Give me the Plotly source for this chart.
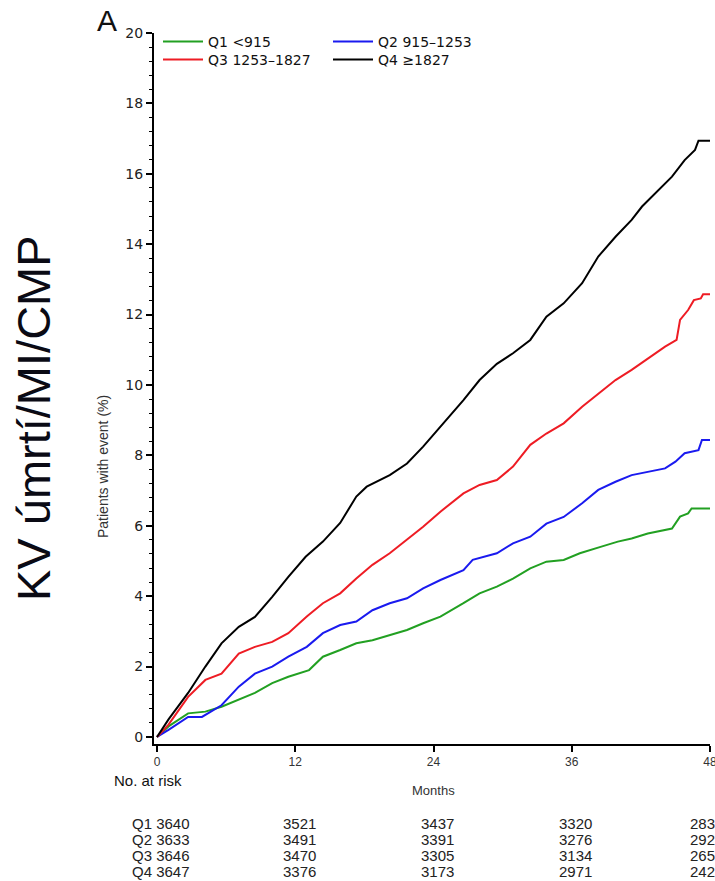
import plotly.graph_objects as go

# Cumulative event curves (months, % of patients with event)
months_q1 = [0, 1, 2.7, 4.2, 5.6, 7.1, 8.5, 10.0, 11.4, 13.2, 14.4, 15.9, 17.3, 18.7, 20.2, 21.7,
             23.1, 24.6, 26.6, 28.0, 29.5, 30.9, 32.4, 33.8, 35.3, 36.7, 38.5, 40.0, 41.2, 42.6,
             44.7, 45.4, 46.1, 46.4, 48]
pct_q1 = [0, 0.3, 0.67, 0.72, 0.86, 1.05, 1.25, 1.53, 1.71, 1.9, 2.28, 2.47, 2.66, 2.75, 2.9, 3.04,
          3.23, 3.42, 3.8, 4.08, 4.27, 4.5, 4.79, 4.98, 5.03, 5.22, 5.4, 5.55, 5.64, 5.78,
          5.92, 6.26, 6.35, 6.49, 6.49]

months_q2 = [0, 1, 2.7, 3.9, 5.6, 7.1, 8.5, 10.0, 11.4, 13.0, 14.4, 15.9, 17.3, 18.7, 20.2, 21.7,
             23.1, 24.6, 26.6, 27.4, 29.5, 30.9, 32.4, 33.8, 35.3, 36.9, 38.3, 39.8, 41.2, 42.6,
             44.1, 45.0, 45.8, 47.0, 47.3, 48]
pct_q2 = [0, 0.2, 0.57, 0.57, 0.9, 1.43, 1.8, 2.0, 2.28, 2.56, 2.95, 3.18, 3.28, 3.6, 3.8, 3.94,
          4.22, 4.46, 4.74, 5.03, 5.22, 5.5, 5.69, 6.06, 6.25, 6.64, 7.02, 7.25, 7.44, 7.54,
          7.63, 7.82, 8.06, 8.15, 8.44, 8.44]

months_q3 = [0, 1, 2.7, 4.2, 5.6, 7.1, 8.5, 10.0, 11.4, 13.0, 14.4, 15.9, 17.3, 18.7, 20.2, 21.7,
             23.1, 24.6, 26.6, 28.0, 29.5, 30.9, 32.4, 33.8, 35.3, 36.9, 38.3, 39.8, 41.2, 42.6,
             44.1, 45.1, 45.4, 46.1, 46.6, 47.2, 47.4, 48]
pct_q3 = [0, 0.35, 1.14, 1.62, 1.8, 2.37, 2.56, 2.7, 2.95, 3.42, 3.8, 4.08, 4.5, 4.89, 5.22, 5.6,
          5.97, 6.4, 6.92, 7.16, 7.3, 7.68, 8.3, 8.62, 8.91, 9.38, 9.76, 10.14, 10.43, 10.76,
          11.09, 11.28, 11.85, 12.13, 12.41, 12.46, 12.58, 12.58]

months_q4 = [0, 1, 2.7, 4.2, 5.6, 7.1, 8.5, 10.0, 11.4, 12.9, 14.4, 15.9, 17.3, 18.2, 20.2, 21.7,
             23.1, 24.6, 26.6, 28.0, 29.5, 30.9, 32.4, 33.8, 35.3, 36.9, 38.3, 39.8, 41.2, 42.1,
             43.5, 44.7, 45.8, 46.7, 47.0, 48]
pct_q4 = [0, 0.5, 1.25, 2.0, 2.66, 3.13, 3.41, 3.98, 4.55, 5.12, 5.55, 6.08, 6.83, 7.11, 7.44, 7.77,
          8.25, 8.81, 9.57, 10.14, 10.6, 10.9, 11.28, 11.94, 12.32, 12.89, 13.65, 14.21, 14.69, 15.07,
          15.54, 15.92, 16.39, 16.68, 16.94, 16.94]

series_names = ["Q1 <915", "Q2 915\u20131253", "Q3 1253\u20131827", "Q4 \u22651827"]
series_colors = ["#22a022", "#1a1aef", "#ee1c24", "#000000"]

# Numbers at risk
risk_labels = ["Q1", "Q2", "Q3", "Q4"]
risk_months = [0, 12, 24, 36, 48]
risk_q1 = [3640, 3521, 3437, 3320, 283]
risk_q2 = [3633, 3491, 3391, 3276, 292]
risk_q3 = [3646, 3470, 3305, 3134, 265]
risk_q4 = [3647, 3376, 3173, 2971, 242]

x_ticks = [0, 12, 24, 36, 48]
y_ticks = list(range(0, 21, 2))

W, H = 715, 881
L, R, T, B = 154, 5, 33, 137
PW, PH = W - L - R, H - T - B


def px_x(px):
    return (px - L) / PW


def px_y(py):
    return (H - B - py) / PH


fig = go.Figure()
all_months = [months_q1, months_q2, months_q3, months_q4]
all_pct = [pct_q1, pct_q2, pct_q3, pct_q4]
legend_ids = ["legend", "legend2", "legend3", "legend4"]
for name, col, leg, xs, ys in zip(series_names, series_colors, legend_ids, all_months, all_pct):
    fig.add_trace(go.Scatter(
        x=xs, y=ys, mode="lines", name=name, legend=leg, showlegend=True,
        line=dict(color=col, width=2),
    ))

# one legend box per entry, laid out as a 2 x 2 grid
legend_pos = [(158, 42), (328, 42), (158, 60), (328, 60)]
legend_layout = {}
for leg, (lx, ly) in zip(legend_ids, legend_pos):
    legend_layout[leg] = dict(
        x=px_x(lx), y=px_y(ly), xanchor="left", yanchor="middle",
        bgcolor="rgba(0,0,0,0)", borderwidth=0,
        font=dict(family="DejaVu Sans", size=14, color="#111"),
        itemwidth=40,
    )

annotations = [
    dict(text="A", x=px_x(107), y=px_y(21), xref="paper", yref="paper", showarrow=False,
         xanchor="center", yanchor="middle",
         font=dict(family="Liberation Sans", size=30, color="#111")),
    dict(text="KV úmrtí/MI/CMP", x=px_x(33), y=px_y(418), xref="paper", yref="paper",
         showarrow=False, textangle=-90, xanchor="center", yanchor="middle",
         font=dict(family="Liberation Sans", size=47, color="#0a0a14")),
    dict(text="Patients with event (%)", x=px_x(103), y=px_y(467), xref="paper", yref="paper",
         showarrow=False, textangle=-90, xanchor="center", yanchor="middle",
         font=dict(family="Liberation Sans", size=14, color="#333")),
    dict(text="Months", x=24, y=px_y(790), xref="x", yref="paper", showarrow=False,
         xanchor="center", yanchor="middle",
         font=dict(family="Liberation Sans", size=13, color="#333")),
    dict(text="No. at risk", x=px_x(112), y=px_y(780), xref="paper", yref="paper",
         xanchor="left", yanchor="middle", showarrow=False,
         font=dict(family="Liberation Sans Narrow, Liberation Sans", size=15, color="#111")),
]

row_y = [823, 839, 855, 871]
for lab, vals, py in zip(risk_labels, [risk_q1, risk_q2, risk_q3, risk_q4], row_y):
    for m, v in zip(risk_months, vals):
        txt = f"{lab} {v}" if m == 0 else str(v)
        ann = dict(text=txt, x=m, y=px_y(py), xref="x", yref="paper", showarrow=False,
                   xanchor="center", yanchor="middle", xshift=4,
                   font=dict(family="Liberation Sans", size=15, color="#222"))
        if m == risk_months[-1]:
            ann.update(xanchor="left", xshift=-22)
        annotations.append(ann)

fig.update_layout(
    width=W, height=H,
    margin=dict(l=L, r=R, t=T, b=B, autoexpand=False),
    plot_bgcolor="white", paper_bgcolor="white",
    showlegend=True,
    annotations=annotations,
    xaxis=dict(
        range=[-0.26, 48], tickvals=x_ticks, ticks="outside", ticklen=6, tickwidth=1.5,
        tickcolor="black", showline=True, linecolor="black", linewidth=2,
        showgrid=False, zeroline=False, ticklabeloverflow="allow", automargin=False,
        tickfont=dict(family="Liberation Sans Narrow, Liberation Sans", size=12, color="#333"),
    ),
    yaxis=dict(
        range=[-0.2, 20], tickvals=y_ticks, ticks="outside", ticklen=6, tickwidth=1.5,
        tickcolor="black", showline=True, linecolor="black", linewidth=2,
        showgrid=False, zeroline=False, automargin=False,
        minor=dict(dtick=0.4, tick0=0, ticks="outside", ticklen=3, tickwidth=1, tickcolor="black",
                   showgrid=False),
        tickfont=dict(family="DejaVu Sans", size=14, color="#222"),
    ),
    **legend_layout,
)

fig.write_html("out.html")
